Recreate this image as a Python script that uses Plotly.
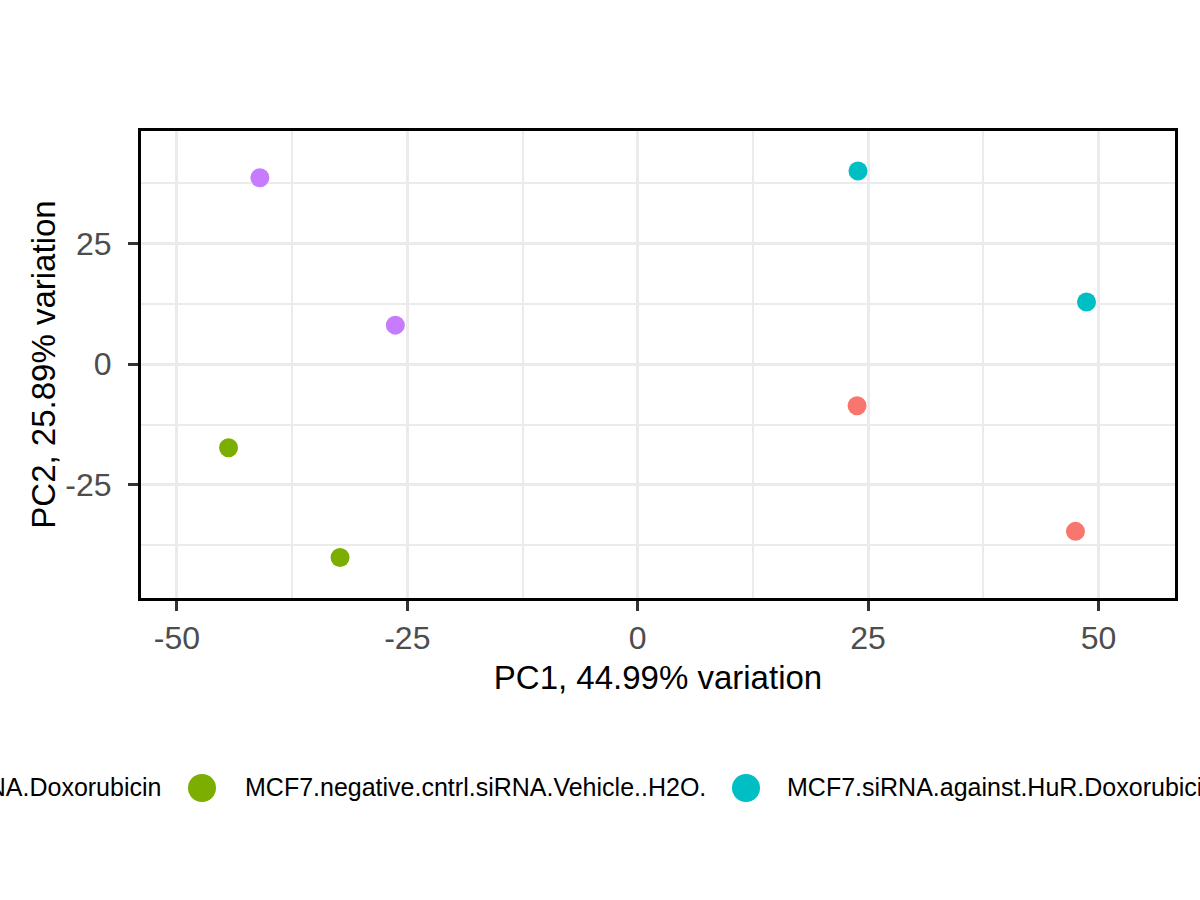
import plotly.graph_objects as go

# PCA scores
groups = [
    "MCF7.negative.cntrl.siRNA.Doxorubicin",
    "MCF7.negative.cntrl.siRNA.Vehicle..H2O.",
    "MCF7.siRNA.against.HuR.Doxorubicin",
    "MCF7.siRNA.against.HuR.Vehicle..H2O.",
]
colors = ["#F8766D", "#7CAE00", "#00BFC4", "#C77CFF"]

pc1 = {
    groups[0]: [23.8, 47.5],
    groups[1]: [-44.4, -32.3],
    groups[2]: [23.9, 48.7],
    groups[3]: [-41.0, -26.3],
}
pc2 = {
    groups[0]: [-8.6, -34.6],
    groups[1]: [-17.3, -40.0],
    groups[2]: [40.0, 12.9],
    groups[3]: [38.6, 8.1],
}

x_ticks = [-50, -25, 0, 25, 50]
x_labels = ["-50", "-25", "0", "25", "50"]
y_ticks = [-25, 0, 25]
y_labels = ["-25", "0", "25"]
x_title = "PC1, 44.99% variation"
y_title = "PC2, 25.89% variation"

W, H = 1200, 900
L, R, T, B = 141, 25, 131, 302
pw, ph = W - L - R, H - T - B


def px_x(p):
    return (p - L) / pw


def px_y(p):
    return (H - B - p) / ph


fig = go.Figure()
for g, c in zip(groups, colors):
    fig.add_trace(go.Scatter(
        x=pc1[g], y=pc2[g], mode="markers", name=g,
        marker=dict(color=c, size=19, line=dict(width=0)),
        showlegend=False,
    ))

# legend drawn by hand: ggplot lets it run past the page edges
key_x = [-318, 202, 746, 1257]
text_x = [163, 243, 785, 1298]
leg_y = 788
for i, (g, c) in enumerate(zip(groups, colors)):
    r = 14
    fig.add_shape(type="circle", xref="paper", yref="paper",
                  x0=px_x(key_x[i] - r), x1=px_x(key_x[i] + r),
                  y0=px_y(leg_y + r), y1=px_y(leg_y - r),
                  fillcolor=c, line=dict(width=0))
    fig.add_annotation(xref="paper", yref="paper",
                       x=px_x(text_x[i]), y=px_y(leg_y - 1),
                       text=g, showarrow=False,
                       xanchor="right" if i == 0 else "left", yanchor="middle",
                       font=dict(size=25, color="black"))

axis_common = dict(
    showgrid=True, gridcolor="#EBEBEB", gridwidth=3,
    zeroline=False,
    showline=True, mirror=True, linecolor="black", linewidth=3,
    ticks="outside", ticklen=10, tickwidth=3, tickcolor="#333333",
    tickfont=dict(size=32, color="#4D4D4D"),
    automargin=False,
)

fig.update_xaxes(
    range=[-53.9, 58.3], tickvals=x_ticks, ticktext=x_labels,
    minor=dict(dtick=12.5, tick0=0, showgrid=True, gridcolor="#EBEBEB",
               gridwidth=1.5, ticklen=0),
    title=dict(text=x_title, font=dict(size=33, color="black"), standoff=11),
    **axis_common,
)
fig.update_yaxes(
    range=[-48.4, 48.3], tickvals=y_ticks, ticktext=y_labels,
    ticklabelstandoff=10,
    minor=dict(dtick=12.5, tick0=0, showgrid=True, gridcolor="#EBEBEB",
               gridwidth=1.5, ticklen=0),
    title=dict(text=y_title, font=dict(size=33, color="black"), standoff=0),
    **axis_common,
)

fig.update_layout(
    width=W, height=H,
    margin=dict(l=L, r=R, t=T, b=B),
    paper_bgcolor="white", plot_bgcolor="white",
    font=dict(family="Liberation Sans, Arial, sans-serif"),
    showlegend=False,
)

fig.write_html("out.html", config={"displayModeBar": False},
               post_script="document.body.style.margin='0';")
